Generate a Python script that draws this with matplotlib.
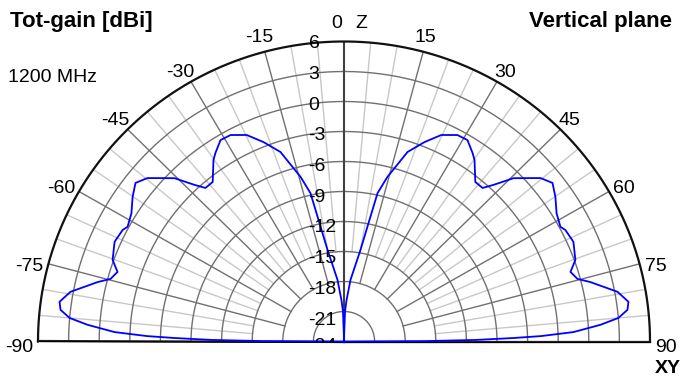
import numpy as np
import matplotlib
matplotlib.use("Agg")
import matplotlib.pyplot as plt
from matplotlib.transforms import offset_copy, Bbox, TransformedBbox

# pattern: angle from zenith (deg), total gain (dBi)
# right half only, the plot is symmetric
theta_deg = [0.0, 0.5, 1.9, 3.4, 5.9, 10.0, 11.6, 12.5, 14.5, 15.9, 18.2, 21.6,
             24.8, 28.3, 31.0, 33.8, 35.2, 38.9, 41.5, 43.1, 45.5, 49.7, 52.2,
             55.1, 58.4, 61.6, 62.8, 66.1, 70.2, 72.6, 74.7, 76.2, 79.5, 81.9,
             83.5, 85.0, 86.2, 87.6, 88.4, 88.8, 89.3, 89.7, 90.0]
gain_dbi = [-40.0, -23.5, -21.0, -19.9, -17.8, -14.7, -11.6, -8.8, -7.0, -6.0,
            -4.05, -2.55, -1.25, -0.55, -0.5, -1.33, -1.8, -3.5, -3.5, -2.55,
            -0.7, 1.27, 1.87, 1.27, 0.47, 0.12, 0.4, 0.6, 0.11, -0.73, -0.27,
            0.89, 3.27, 4.17, 3.97, 3.0, 1.2, -1.48, -4.7, -7.4, -11.0, -16.0,
            -40.0]

r_ticks = [6, 3, 0, -3, -6, -9, -12, -15, -18, -21, -24]
ang_ticks = [-90, -75, -60, -45, -30, -15, 15, 30, 45, 60, 75, 90]

R_MIN, R_MAX = -24, 6
DARK = "#707070"
LIGHT = "#c8c8c8"

W, H = 681, 383
CX, CY = 344, 341.5      # centre of the half disc, px from top-left
RX, RY = 306, 300        # the picture is slightly wider than tall

fig = plt.figure(figsize=(W / 100, H / 100), dpi=100)
# matplotlib pads a half-disc wedge to a square, so the box is 2R high
ax = fig.add_axes([(CX - RX) / W, (H - CY - RY / 2) / H, 2 * RX / W, 2 * RY / H],
                  projection="polar")
ax.set_thetamin(-90)
ax.set_thetamax(90)
ax.set_theta_zero_location("N")
ax.set_theta_direction(-1)
ax.set_rlim(R_MIN, R_MAX)
ax.set_aspect("auto")
ax.set_xticks([])
ax.set_yticks([])
ax.grid(False)
for sp in ax.spines.values():
    sp.set_visible(False)

# ---- grid ----
arc = np.linspace(-np.pi / 2, np.pi / 2, 400)
for rv in r_ticks[1:-1]:
    ax.plot(arc, np.full_like(arc, rv), color=DARK, lw=1.0, zorder=1)
ax.plot(arc, np.full_like(arc, R_MAX), color="#111111", lw=1.6, zorder=3,
        clip_on=False)

for a in range(-85, 90, 5):
    if a == 0:
        continue
    t = np.deg2rad(a)
    if a % 15 == 0:
        ax.plot([t, t], [-18, R_MAX], color=DARK, lw=1.0, zorder=2)
    else:
        ax.plot([t, t], [-15, R_MAX], color=LIGHT, lw=1.0, zorder=0.5)

ax.plot([0, 0], [R_MIN, R_MAX], color="#404040", lw=1.5, zorder=2)
for a in (-90, 90):
    t = np.deg2rad(a)
    ax.plot([t, t], [R_MIN, R_MAX], color="#202020", lw=1.6, zorder=2,
            clip_on=False)

# ---- pattern ----
th = np.deg2rad(np.array(theta_deg))
g = np.maximum(np.array(gain_dbi), R_MIN)
th_full = np.concatenate([-th[::-1], th[1:]])
g_full = np.concatenate([g[::-1], g[1:]])
ax.plot(th_full, g_full, color="#0000ff", lw=1.3, zorder=5, clip_on=False)

# ---- labels ----
font = "Liberation Sans"
fs = 14
# everything below the base line is blank in the original (cuts the -24)
above_base = TransformedBbox(Bbox([[0, (H - CY) / H], [1, 1]]), fig.transFigure)


def put(theta, r, txt, dx, dy, ha, clip=False, **kw):
    tr = offset_copy(ax.transData, fig=fig, x=dx, y=dy, units="dots")
    t = ax.text(np.deg2rad(theta), r, txt, transform=tr, ha=ha, va="baseline",
                fontsize=fs, family=font, zorder=6, **kw)
    t.set_clip_path(None)
    if clip:
        t.set_clip_box(above_base)
        t.set_clip_on(True)
    else:
        t.set_clip_on(False)
    return t


for k, rv in enumerate(r_ticks):
    dy = -6.5 - 0.75 * k if rv != -24 else -9.5
    put(0, rv, str(rv), -35.5, dy, "left", clip=(rv == -24))

offs = {15: (-8.5, 10), 30: (-3, 4.7), 45: (-1.5, 4), 60: (3.5, -1.5),
        75: (5.4, -7), 90: (5, -11)}
for a in ang_ticks:
    s = 1 if a > 0 else -1
    ox, oy = offs[abs(a)]
    put(a, R_MAX, str(a), s * ox, oy, "left" if a > 0 else "right")

put(0, R_MAX, "0", -1.5, 13.5, "right")
put(0, R_MAX, "Z", 11.5, 13.5, "left")
put(90, R_MAX, "XY", 5, -31.5, "left", weight="bold")

fig.text(10 / W, 1 - 27 / H, "Tot-gain [dBi]", fontsize=16, family=font,
         weight="bold", ha="left", va="baseline")
fig.text(672 / W, 1 - 27 / H, "Vertical plane", fontsize=16, family=font,
         weight="bold", ha="right", va="baseline")
fig.text(8 / W, 1 - 82 / H, "1200 MHz", fontsize=fs, family=font,
         ha="left", va="baseline")

fig.savefig("out.png", dpi=100)
